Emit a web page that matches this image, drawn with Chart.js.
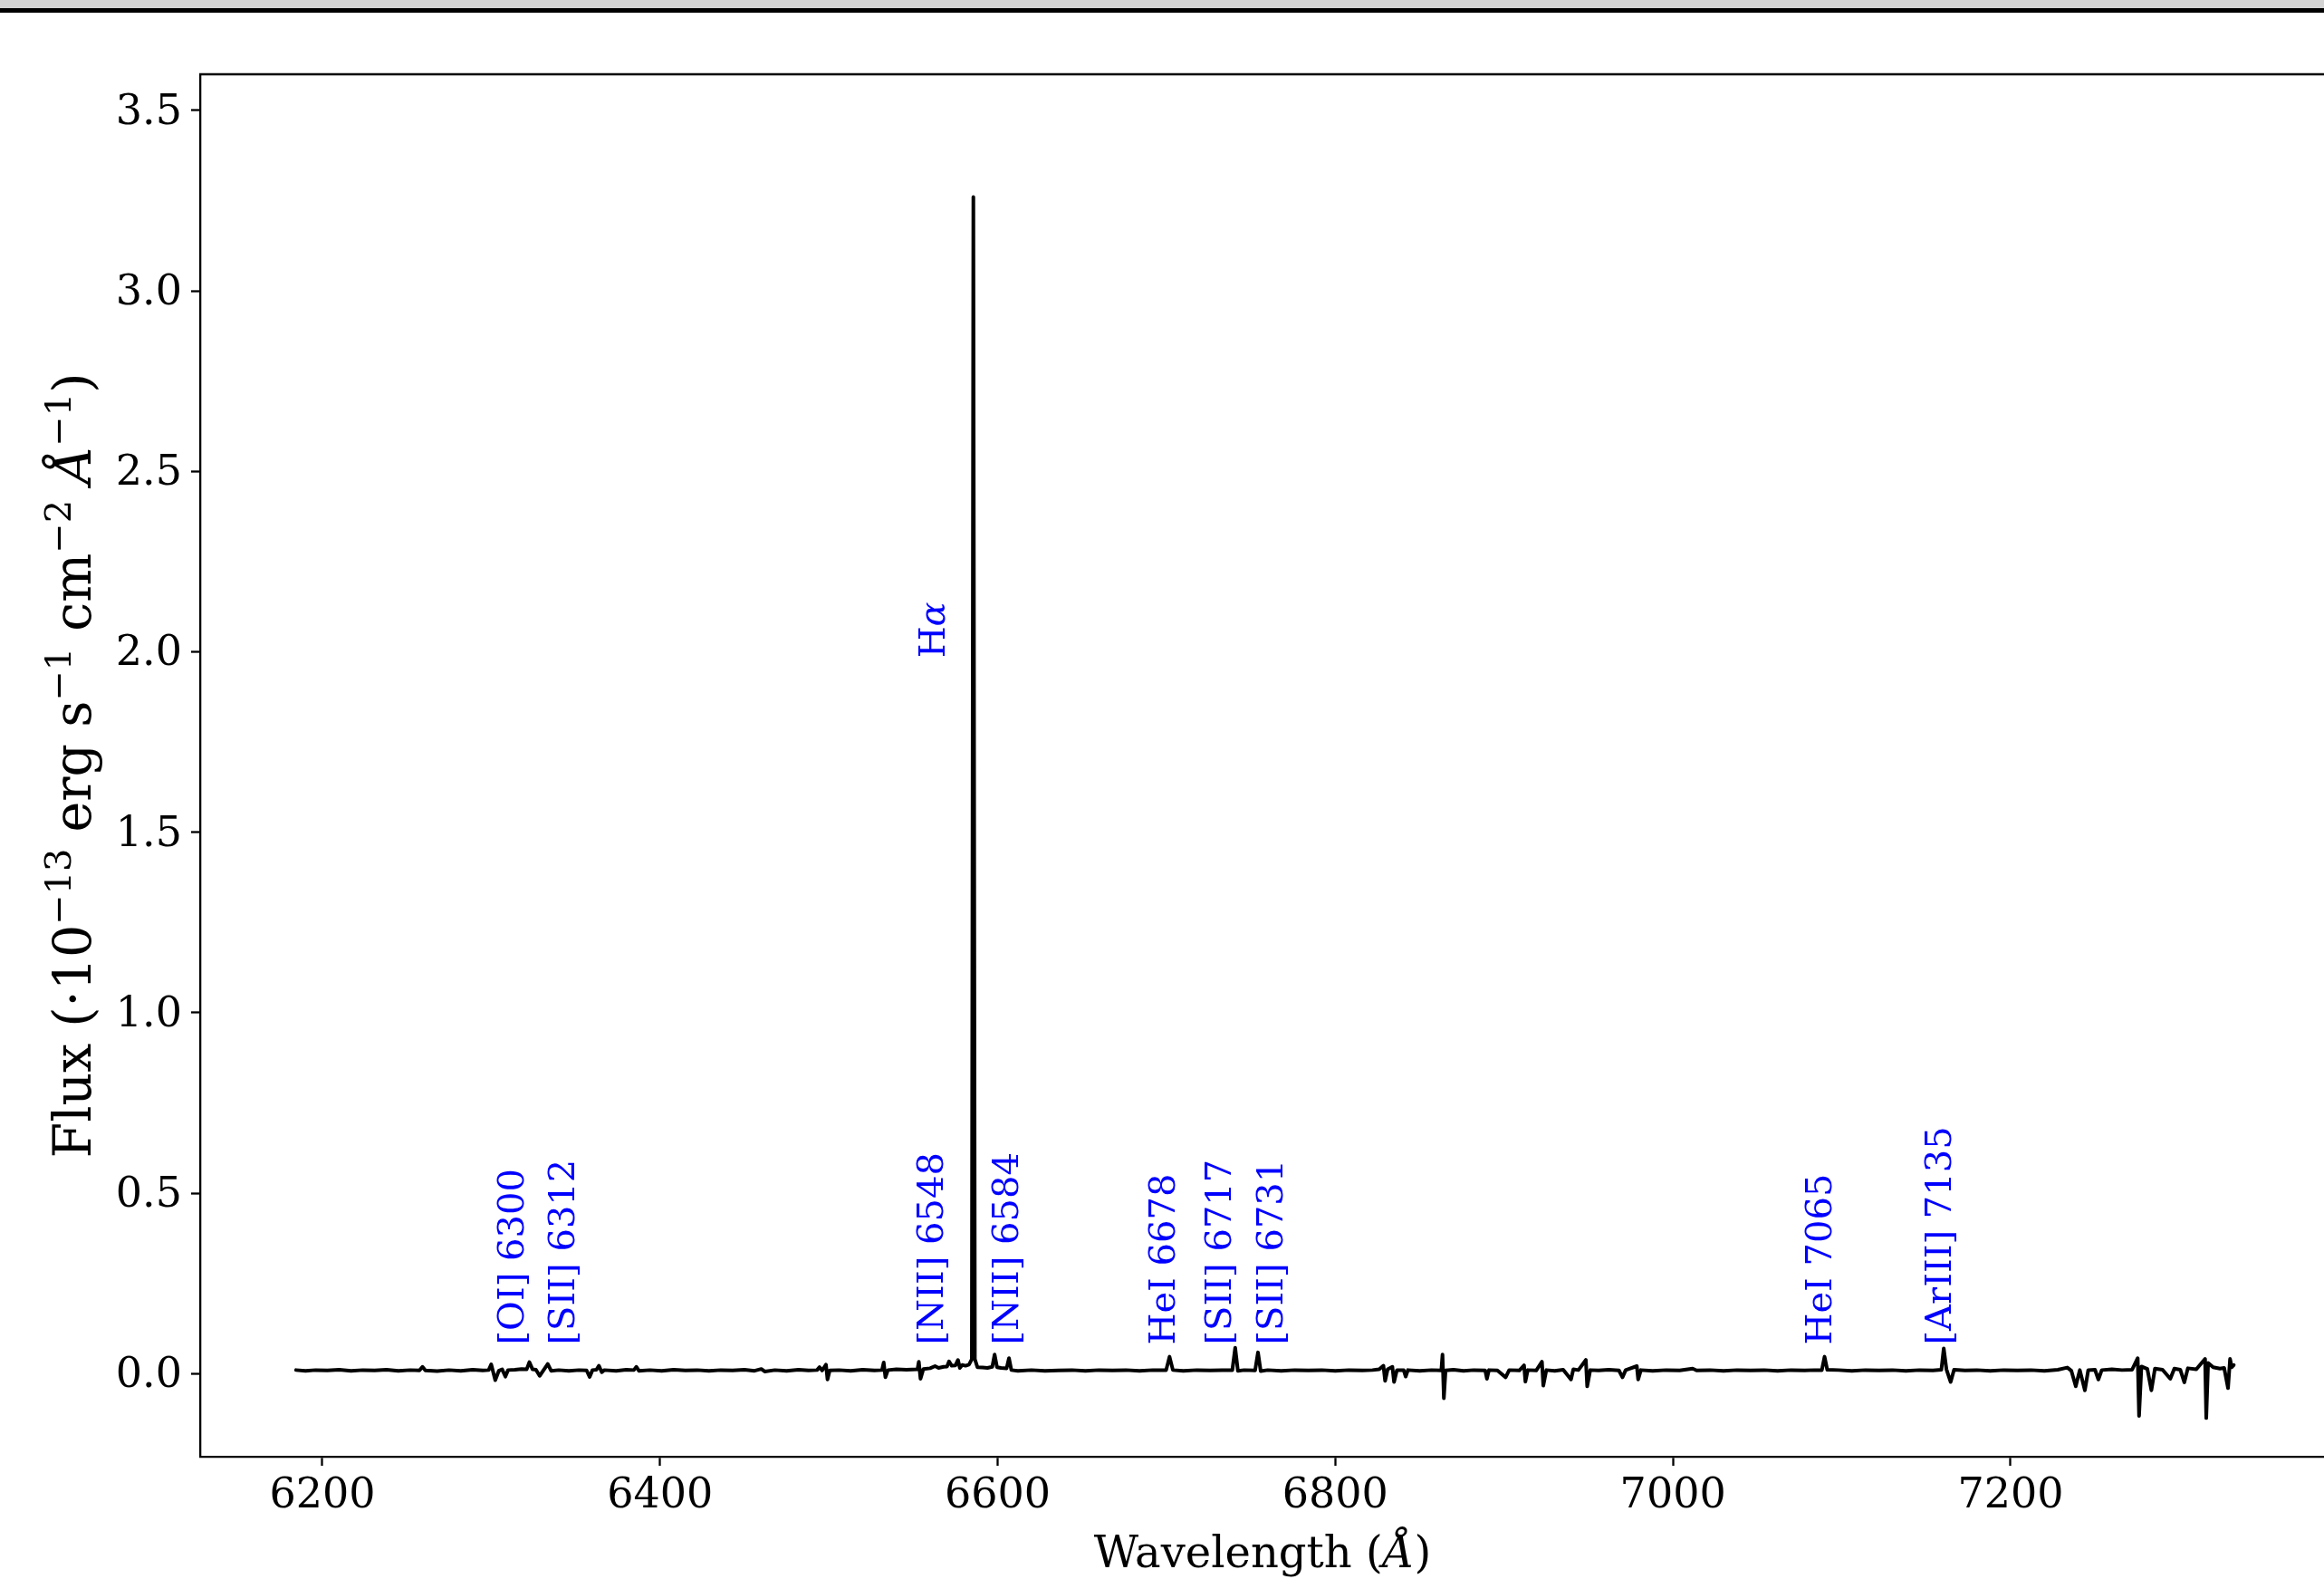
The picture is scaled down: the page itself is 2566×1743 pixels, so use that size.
<!DOCTYPE html>
<html>
<head>
<meta charset="utf-8">
<title>Spectrum</title>
<script src="https://cdn.jsdelivr.net/npm/chart.js@4.4.1/dist/chart.umd.min.js"></script>
<style>
  html, body { margin: 0; padding: 0; background: #fff; overflow: hidden; }
  #topbar { position: absolute; left: 0; top: 0; width: 100%; height: 9px; background: #d3d3d3; border-bottom: 5px solid #000; z-index: 2; }
  #wrap { position: absolute; left: 0; top: 0; width: 2580px; height: 1743px; }
</style>
</head>
<body>
<div id="topbar"></div>
<div id="wrap"><canvas id="spectrum" width="2580" height="1743"></canvas></div>
<script>
// wavelength in Angstrom, flux in 1e-13 erg/s/cm2/A
const wavelength = [
  6184.4, 6190, 6196, 6203, 6210, 6217, 6224, 6231, 6238, 6245,
  6252, 6257.5, 6259.3, 6261, 6268, 6275, 6282, 6289, 6295, 6298.5,
  6300, 6302.4, 6304.5, 6306.5, 6308.4, 6310, 6314, 6318, 6321, 6322.6,
  6324.5, 6326.5, 6328.7, 6331.5, 6333.5, 6335.5, 6340, 6346, 6352, 6356.5,
  6358.3, 6360, 6362.3, 6363.8, 6365.5, 6367, 6374, 6380, 6384.5, 6386,
  6387.5, 6394, 6401, 6408, 6415, 6422, 6429, 6436, 6443, 6450,
  6456, 6460, 6462, 6468, 6475, 6482, 6488, 6493, 6494.5, 6496,
  6498.3, 6499.2, 6500.5, 6506, 6513, 6520, 6527, 6531.5, 6532.5, 6533.5,
  6535, 6540, 6546, 6552.5, 6553.3, 6554.3, 6556, 6560, 6562.9, 6565,
  6568, 6570, 6571.2, 6572.8, 6575, 6576.5, 6577.6, 6579, 6581, 6583,
  6584.7, 6585.6, 6586.5, 6588, 6591, 6594, 6596.8, 6598.2, 6599.6, 6602,
  6605.3, 6606.7, 6608.1, 6612, 6620, 6628, 6636, 6644, 6652, 6660,
  6668, 6676, 6684, 6692, 6699.8, 6701.8, 6703.8, 6710, 6718, 6726,
  6733, 6739, 6740.7, 6742.3, 6746, 6752.5, 6754.2, 6755.8, 6760, 6768,
  6776, 6784, 6792, 6800, 6808, 6816, 6822, 6826, 6828.5, 6829.5,
  6831, 6833.8, 6834.8, 6836.5, 6840.5, 6841.7, 6843, 6850, 6857, 6862.8,
  6863.5, 6864.3, 6865.3, 6870, 6876, 6882, 6888.8, 6889.8, 6891, 6896,
  6900.9, 6903, 6909, 6911.8, 6912.6, 6914, 6919, 6922.4, 6923.2, 6925,
  6930, 6935, 6939.6, 6941, 6944, 6948.4, 6949.2, 6951, 6956, 6962,
  6968, 6970.1, 6972, 6978.6, 6979.4, 6981, 6988, 6996, 7004, 7011.7,
  7014, 7022, 7030, 7038, 7046, 7054, 7062, 7070, 7078, 7084,
  7088.2, 7089.8, 7091.4, 7098, 7106, 7114, 7122, 7130, 7138, 7146,
  7154, 7159, 7160.4, 7162, 7164.5, 7166.5, 7173, 7180, 7188, 7196,
  7204, 7212, 7220, 7228, 7233.6, 7236, 7238.6, 7241, 7244, 7246,
  7250, 7252, 7254, 7260, 7266, 7272, 7275.3, 7276.1, 7277.5, 7281,
  7283.4, 7285.5, 7290, 7294.6, 7297, 7300.5, 7302.9, 7305, 7310, 7315.2,
  7315.9, 7317, 7320, 7324, 7326.5, 7328.8, 7330, 7331, 7332.2
];
const flux = [
  0.010, 0.008, 0.010, 0.009, 0.011, 0.008, 0.010, 0.009, 0.011, 0.008,
  0.010, 0.009, 0.019, 0.009, 0.007, 0.010, 0.008, 0.011, 0.009, 0.010,
  0.026, -0.018, 0.008, 0.012, -0.008, 0.010, 0.011, 0.013, 0.012, 0.032,
  0.012, 0.011, -0.006, 0.013, 0.027, 0.008, 0.010, 0.008, 0.010, 0.009,
  -0.009, 0.010, 0.011, 0.022, 0.004, 0.010, 0.008, 0.011, 0.010, 0.019,
  0.008, 0.010, 0.008, 0.011, 0.009, 0.010, 0.008, 0.010, 0.009, 0.011,
  0.008, 0.013, 0.006, 0.010, 0.008, 0.011, 0.009, 0.010, 0.018, 0.009,
  0.025, -0.016, 0.009, 0.010, 0.008, 0.011, 0.009, 0.010, 0.031, -0.010,
  0.010, 0.012, 0.011, 0.012, 0.033, -0.014, 0.013, 0.015, 0.021, 0.016,
  0.019, 0.020, 0.034, 0.022, 0.023, 0.038, 0.016, 0.024, 0.022, 0.025,
  0.040, 3.260, 0.040, 0.018, 0.017, 0.016, 0.019, 0.053, 0.018, 0.016,
  0.015, 0.043, 0.010, 0.008, 0.010, 0.008, 0.009, 0.010, 0.008, 0.010,
  0.009, 0.010, 0.008, 0.010, 0.010, 0.047, 0.010, 0.008, 0.010, 0.009,
  0.010, 0.010, 0.072, 0.008, 0.010, 0.009, 0.059, 0.007, 0.010, 0.008,
  0.010, 0.009, 0.010, 0.008, 0.010, 0.009, 0.010, 0.012, 0.022, -0.020,
  0.012, 0.019, -0.023, 0.010, 0.010, -0.008, 0.010, 0.008, 0.010, 0.009,
  0.053, -0.068, 0.009, 0.011, 0.008, 0.010, 0.009, -0.014, 0.010, 0.009,
  -0.010, 0.010, 0.009, 0.023, -0.022, 0.010, 0.009, 0.033, -0.033, 0.010,
  0.008, 0.011, -0.016, 0.012, 0.010, 0.038, -0.035, 0.010, 0.009, 0.011,
  0.009, -0.010, 0.010, 0.021, -0.016, 0.010, 0.008, 0.010, 0.009, 0.014,
  0.009, 0.010, 0.008, 0.010, 0.009, 0.010, 0.008, 0.010, 0.009, 0.010,
  0.010, 0.047, 0.011, 0.010, 0.008, 0.010, 0.009, 0.010, 0.008, 0.010,
  0.009, 0.011, 0.070, 0.012, -0.023, 0.011, 0.009, 0.010, 0.008, 0.010,
  0.009, 0.010, 0.008, 0.011, 0.017, 0.008, -0.035, 0.010, -0.046, 0.010,
  0.011, -0.016, 0.010, 0.012, 0.010, 0.011, 0.043, -0.117, 0.020, 0.013,
  -0.046, 0.014, 0.011, -0.014, 0.014, 0.011, -0.024, 0.015, 0.012, 0.041,
  -0.123, 0.030, 0.018, 0.014, 0.016, -0.040, 0.041, 0.018, 0.024
];

// emission line labels: text, x position (A), y where the rotated text starts
const lineNames = ['[OI] 6300', '[SII] 6312', '[NII] 6548', 'H\u03b1', '[NII] 6584',
                   'HeI 6678', '[SII] 6717', '[SII] 6731', 'HeI 7065', '[ArIII] 7135'];
const lineX = [6313.6, 6343.4, 6562.0, 6563.0, 6606.3, 6699.5, 6732.5, 6763.3, 7088.4, 7159.0];
const lineY = [0.08, 0.08, 0.08, 1.983, 0.08, 0.08, 0.08, 0.08, 0.08, 0.08];

const xTicks = [6200, 6400, 6600, 6800, 7000, 7200];
const yTicks = [0.0, 0.5, 1.0, 1.5, 2.0, 2.5, 3.0, 3.5];

const FONT = 'DejaVu Serif';

// draws text made of pieces: '' roman, 'i' italic, 's' superscript
function richText(ctx, parts, x, y, size, rotate, align) {
  const fontOf = p => (p[1].includes('i') ? 'italic ' : '') +
    (p[1].includes('s') ? size * 0.7 : size) + 'px "' + FONT + '"';
  let total = 0;
  const widths = parts.map(p => {
    ctx.font = fontOf(p);
    const w = ctx.measureText(p[0]).width;
    total += w;
    return w;
  });
  ctx.save();
  ctx.translate(x, y);
  if (rotate) ctx.rotate(-Math.PI / 2);
  let cx = align === 'center' ? -total / 2 : 0;
  parts.forEach((p, i) => {
    ctx.font = fontOf(p);
    ctx.fillText(p[0], cx, p[1].includes('s') ? -size * 0.39 : 0);
    cx += widths[i];
  });
  ctx.restore();
}

const xTitle = [['Wavelength (', ''], ['\u00c5', 'i'], [')', '']];
const yTitle = [['Flux (\u00b710', ''], ['\u221213', 's'], [' erg s', ''], ['\u22121', 's'],
                [' cm', ''], ['\u22122', 's'], [' ', ''], ['\u00c5', 'i'], ['\u22121', 's'], [')', '']];

const annotate = {
  id: 'annotate',
  afterDraw(chart) {
    const { ctx, chartArea: a, scales } = chart;
    ctx.save();
    // top and right spines
    ctx.strokeStyle = '#000';
    ctx.lineWidth = 2.3;
    ctx.beginPath();
    ctx.moveTo(a.left - 1, a.top);
    ctx.lineTo(a.right, a.top);
    ctx.lineTo(a.right, a.bottom);
    ctx.stroke();

    // line identifications
    ctx.fillStyle = '#0000ff';
    ctx.textBaseline = 'middle';
    lineNames.forEach((name, i) => {
      const px = scales.x.getPixelForValue(lineX[i]);
      const py = scales.y.getPixelForValue(lineY[i]);
      const parts = name === 'H\u03b1' ? [['H', ''], ['\u03b1', 'i']] : [[name, '']];
      richText(ctx, parts, px, py, 40, true, 'left');
    });

    // axis titles
    ctx.fillStyle = '#000';
    ctx.textBaseline = 'alphabetic';
    richText(ctx, xTitle, (a.left + a.right) / 2 - 3, 1730, 48, false, 'center');
    richText(ctx, yTitle, 100, (a.top + a.bottom) / 2, 57, true, 'center');
    ctx.restore();
  }
};

const points = wavelength.map((w, i) => ({ x: w, y: flux[i] }));

new Chart(document.getElementById('spectrum'), {
  type: 'line',
  data: {
    datasets: [{
      data: points,
      borderColor: '#000',
      borderWidth: 4,
      pointRadius: 0,
      tension: 0,
      fill: false,
      borderJoinStyle: 'round',
      borderCapStyle: 'round'
    }]
  },
  options: {
    responsive: false,
    animation: false,
    events: [],
    layout: { padding: { top: 82, right: 7, left: 0, bottom: 0 } },
    plugins: { legend: { display: false }, tooltip: { enabled: false } },
    scales: {
      x: {
        type: 'linear',
        min: 6127.6,
        max: 7389.4,
        afterBuildTicks: s => { s.ticks = xTicks.map(v => ({ value: v })); },
        afterFit: s => { s.height = 135; },
        ticks: {
          callback: v => String(v),
          font: { family: FONT, size: 46 },
          color: '#000',
          padding: 6,
          maxRotation: 0,
          autoSkip: false
        },
        grid: { drawOnChartArea: false, drawTicks: true, tickLength: 10, tickWidth: 2.3, tickColor: '#000' },
        border: { display: true, color: '#000', width: 2.3 }
      },
      y: {
        min: -0.23,
        max: 3.6,
        afterBuildTicks: s => { s.ticks = yTicks.map(v => ({ value: v })); },
        afterFit: s => { s.width = 221; },
        ticks: {
          callback: v => v.toFixed(1),
          font: { family: FONT, size: 46 },
          color: '#000',
          padding: 10,
          labelOffset: 3,
          autoSkip: false
        },
        grid: { drawOnChartArea: false, drawTicks: true, tickLength: 10, tickWidth: 2.3, tickColor: '#000' },
        border: { display: true, color: '#000', width: 2.3 }
      }
    }
  },
  plugins: [annotate]
});
</script>
</body>
</html>
